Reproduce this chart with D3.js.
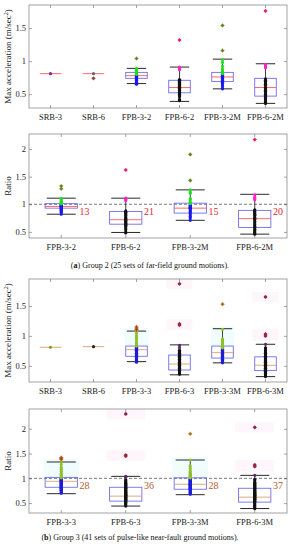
<!DOCTYPE html>
<html>
<head>
<meta charset="utf-8">
<script src="https://cdn.jsdelivr.net/npm/d3@7"></script>
<style>
  body { margin: 0; background: #fff; }
  svg { display: block; }
</style>
</head>
<body>
<svg id="chart" width="292" height="550"></svg>
<script>
// ---- data: Group 2, max acceleration ----
const g2AccCats = ['SRB-3', 'SRB-6', 'FPB-3-2', 'FPB-6-2', 'FPB-3-2M', 'FPB-6-2M'];
const g2AccLo = [0.81, 0.81, 0.66, 0.39, 0.58, 0.36];
const g2AccQ1 = [0.81, 0.81, 0.74, 0.52, 0.69, 0.47];
const g2AccMed = [0.81, 0.81, 0.78, 0.60, 0.76, 0.60];
const g2AccQ3 = [0.81, 0.81, 0.83, 0.71, 0.83, 0.74];
const g2AccHi = [0.81, 0.81, 0.89, 0.91, 1.03, 0.96];
const g2AccHigh = [
  [], [],
  [1.04, 0.89, 0.87, 0.86, 0.85, 0.84, 0.83, 0.83, 0.82, 0.81, 0.81, 0.80],
  [1.32, 0.91, 0.89, 0.87],
  [1.54, 1.16, 1.02, 0.98, 0.92, 0.88, 0.85, 0.84, 0.82, 0.81],
  [1.76, 0.95, 0.93, 0.91, 0.90]
];
const g2AccLow = [
  [0.81], [0.81, 0.74],
  [0.79, 0.78, 0.77, 0.76, 0.75, 0.74, 0.73, 0.72, 0.71, 0.70, 0.68, 0.66, 0.65],
  [0.72, 0.71, 0.70, 0.69, 0.68, 0.66, 0.65, 0.63, 0.62, 0.60, 0.59, 0.58, 0.56, 0.55, 0.53, 0.52, 0.50, 0.48, 0.46, 0.42, 0.40],
  [0.80, 0.79, 0.78, 0.77, 0.76, 0.75, 0.74, 0.73, 0.71, 0.70, 0.68, 0.66, 0.64, 0.61, 0.58],
  [0.73, 0.71, 0.69, 0.67, 0.65, 0.63, 0.60, 0.58, 0.56, 0.54, 0.52, 0.50, 0.48, 0.47, 0.45, 0.43, 0.41, 0.39, 0.37, 0.36]
];
const g2AccOut = [[], [0.74], [1.04], [1.32], [1.54, 1.16], [1.76]];

// ---- data: Group 2, ratio ----
const g2RatioCats = ['FPB-3-2', 'FPB-6-2', 'FPB-3-2M', 'FPB-6-2M'];
const g2RatioLo = [0.82, 0.49, 0.71, 0.46];
const g2RatioQ1 = [0.93, 0.64, 0.84, 0.58];
const g2RatioMed = [0.96, 0.72, 0.93, 0.74];
const g2RatioQ3 = [1.01, 0.87, 1.02, 0.89];
const g2RatioHi = [1.11, 1.11, 1.26, 1.18];
const g2RatioHigh = [
  [1.33, 1.28, 1.10, 1.08, 1.06, 1.05, 1.04, 1.03, 1.02, 1.02, 1.01, 1.01],
  [1.62, 1.11, 1.09, 1.07],
  [1.90, 1.43, 1.26, 1.22, 1.20, 1.10, 1.08, 1.04, 1.02, 1.01],
  [2.17, 1.17, 1.13, 1.11, 1.08]
];
const g2RatioLow = [
  [0.99, 0.98, 0.97, 0.96, 0.96, 0.95, 0.94, 0.93, 0.91, 0.89, 0.87, 0.85, 0.82],
  [0.88, 0.86, 0.85, 0.83, 0.81, 0.79, 0.77, 0.75, 0.74, 0.72, 0.71, 0.69, 0.67, 0.65, 0.64, 0.62, 0.60, 0.57, 0.54, 0.50, 0.48],
  [0.99, 0.98, 0.96, 0.95, 0.94, 0.93, 0.92, 0.90, 0.88, 0.86, 0.84, 0.81, 0.78, 0.75, 0.71],
  [0.90, 0.88, 0.86, 0.84, 0.82, 0.80, 0.77, 0.75, 0.74, 0.72, 0.69, 0.66, 0.63, 0.60, 0.58, 0.55, 0.52, 0.50, 0.48, 0.46]
];
const g2RatioOut = [[1.33, 1.28], [1.62], [1.90, 1.43], [2.17]];
const g2RatioCount = [13, 21, 15, 20];

// ---- data: Group 3, max acceleration ----
const g3AccCats = ['SRB-3', 'SRB-6', 'FPB-3-3', 'FPB-6-3', 'FPB-3-3M', 'FPB-6-3M'];
const g3AccLo = [0.81, 0.82, 0.57, 0.35, 0.55, 0.32];
const g3AccQ1 = [0.81, 0.82, 0.66, 0.43, 0.63, 0.42];
const g3AccMed = [0.81, 0.82, 0.77, 0.53, 0.72, 0.51];
const g3AccQ3 = [0.81, 0.82, 0.83, 0.68, 0.83, 0.65];
const g3AccHi = [0.81, 0.82, 1.08, 0.85, 1.12, 0.86];
const g3AccHigh = [
  [], [],
  [1.15, 1.13, 1.11, 1.10, 1.07, 1.04, 1.00, 0.97, 0.94, 0.90, 0.87, 0.85, 0.83],
  [1.87, 1.20, 1.18, 0.84, 0.80],
  [1.53, 1.11, 0.95, 0.92, 0.90, 0.88, 0.87, 0.85, 0.84, 0.83, 0.82, 0.81, 0.80],
  [1.65, 1.03, 1.00, 0.86]
];
const g3AccLow = [
  [0.81], [0.82],
  [0.81, 0.80, 0.79, 0.79, 0.78, 0.77, 0.77, 0.76, 0.75, 0.75, 0.74, 0.73, 0.72, 0.71, 0.70, 0.70, 0.69, 0.68, 0.67, 0.66, 0.65, 0.64, 0.63, 0.62, 0.60, 0.59, 0.58, 0.56],
  [0.76, 0.74, 0.73, 0.72, 0.71, 0.70, 0.69, 0.68, 0.67, 0.66, 0.65, 0.64, 0.63, 0.62, 0.61, 0.60, 0.59, 0.58, 0.57, 0.56, 0.55, 0.54, 0.53, 0.52, 0.51, 0.50, 0.49, 0.48, 0.47, 0.46, 0.45, 0.44, 0.42, 0.40, 0.38, 0.36],
  [0.79, 0.78, 0.78, 0.77, 0.76, 0.75, 0.75, 0.74, 0.73, 0.72, 0.71, 0.70, 0.70, 0.69, 0.68, 0.67, 0.66, 0.65, 0.64, 0.63, 0.62, 0.61, 0.60, 0.59, 0.58, 0.57, 0.56, 0.55],
  [0.80, 0.78, 0.75, 0.73, 0.71, 0.70, 0.68, 0.66, 0.64, 0.63, 0.62, 0.60, 0.59, 0.58, 0.57, 0.56, 0.55, 0.54, 0.53, 0.52, 0.51, 0.50, 0.49, 0.48, 0.47, 0.46, 0.45, 0.44, 0.43, 0.42, 0.41, 0.40, 0.38, 0.37, 0.35, 0.33, 0.32]
];
const g3AccOut = [[], [], [1.15, 1.13, 1.11, 1.10], [1.87, 1.20, 1.18], [1.53], [1.65, 1.03, 1.00]];

// ---- data: Group 3, ratio ----
const g3RatioCats = ['FPB-3-3', 'FPB-6-3', 'FPB-3-3M', 'FPB-6-3M'];
const g3RatioLo = [0.69, 0.44, 0.67, 0.39];
const g3RatioQ1 = [0.82, 0.54, 0.78, 0.52];
const g3RatioMed = [0.94, 0.64, 0.88, 0.62];
const g3RatioQ3 = [1.02, 0.82, 1.01, 0.80];
const g3RatioHi = [1.33, 1.04, 1.37, 1.06];
const g3RatioHigh = [
  [1.42, 1.40, 1.38, 1.33, 1.28, 1.22, 1.18, 1.14, 1.10, 1.07, 1.05, 1.03, 1.01],
  [2.30, 1.47, 1.45, 1.04, 1.02],
  [1.90, 1.37, 1.25, 1.20, 1.15, 1.12, 1.10, 1.08, 1.06, 1.04, 1.03, 1.02, 1.01],
  [2.03, 1.27, 1.24, 1.06]
];
const g3RatioLow = [
  [0.99, 0.98, 0.97, 0.96, 0.95, 0.95, 0.94, 0.93, 0.92, 0.91, 0.90, 0.89, 0.88, 0.87, 0.86, 0.85, 0.84, 0.83, 0.82, 0.81, 0.80, 0.79, 0.78, 0.76, 0.75, 0.73, 0.71, 0.70],
  [0.97, 0.95, 0.93, 0.91, 0.90, 0.88, 0.86, 0.85, 0.83, 0.82, 0.80, 0.79, 0.77, 0.76, 0.74, 0.72, 0.71, 0.70, 0.68, 0.67, 0.66, 0.65, 0.64, 0.62, 0.61, 0.60, 0.58, 0.57, 0.56, 0.55, 0.53, 0.51, 0.50, 0.48, 0.46, 0.44],
  [0.99, 0.98, 0.97, 0.96, 0.95, 0.94, 0.93, 0.92, 0.91, 0.90, 0.89, 0.88, 0.88, 0.87, 0.86, 0.85, 0.84, 0.83, 0.82, 0.81, 0.80, 0.79, 0.78, 0.76, 0.74, 0.72, 0.70, 0.68],
  [0.98, 0.95, 0.92, 0.90, 0.88, 0.86, 0.84, 0.82, 0.80, 0.79, 0.77, 0.76, 0.74, 0.72, 0.71, 0.70, 0.68, 0.67, 0.66, 0.65, 0.64, 0.62, 0.61, 0.60, 0.58, 0.57, 0.56, 0.54, 0.53, 0.52, 0.50, 0.48, 0.46, 0.44, 0.42, 0.40, 0.39]
];
const g3RatioOut = [[1.42, 1.40, 1.38], [2.30, 1.47, 1.45], [1.90], [2.03, 1.27, 1.24]];
const g3RatioCount = [28, 36, 28, 37];

const accTicks = [0.5, 1, 1.5];
const ratioTicks = [0.5, 1, 1.5, 2];

// ---- styling ----
const serif = '"Liberation Serif", "DejaVu Serif", serif';
const frameColor = '#8c8c8c';
const boxColor = '#5b5bef';

const group2Colors = {
  median: '#ff5a5a', count: '#e8262e',
  fpb3: ['#22dd22', '#1818ee'], fpb6: ['#ff22cc', '#111111'],
  srb3: '#7a2a8a', srb6: '#666666'
};
const group3Colors = {
  median: '#d8a070', count: '#b5582c',
  fpb3: ['#8fbf2a', '#1e1ed8'], fpb6: ['#5a2a6a', '#111111'],
  srb3: '#8a9a20', srb6: '#222222'
};

const plotLeft = 29, plotRight = 287;
const svg = d3.select('#chart');

function drawPanel(p) {
  const x = d3.scaleBand().domain(p.cats).range([plotLeft, plotRight]);
  const y = d3.scaleLinear().domain(p.domain).range([p.bottom, p.top]);
  const bw = x.bandwidth();
  const boxW = bw * 0.5;
  const capW = boxW * 0.45;
  const cx = c => x(c) + bw / 2;
  const col = p.colors;
  const g = svg.append('g');

  const rows = p.cats.map((c, i) => ({
    cat: c, lo: p.lo[i], q1: p.q1[i], med: p.med[i], q3: p.q3[i], hi: p.hi[i],
    high: p.high[i], low: p.low[i], out: p.out[i], count: p.count ? p.count[i] : null
  }));

  // very faint halos (group 3 figure)
  if (p.halo) {
    rows.forEach(r => {
      if (r.cat.startsWith('FPB-3')) {
        const inner = r.high.filter(v => v <= r.hi);
        if (inner.length) {
          g.append('rect')
            .attr('x', cx(r.cat) - boxW * 0.55)
            .attr('y', y(d3.max(inner)) - 3)
            .attr('width', boxW * 1.1)
            .attr('height', y(r.q3) - y(d3.max(inner)) + 3)
            .attr('fill', '#f1fcfc');
        }
      }
      if (r.cat.startsWith('FPB-6')) {
        r.out.forEach(v => {
          g.append('rect')
            .attr('x', cx(r.cat) - boxW * 0.6)
            .attr('y', y(v) - 5)
            .attr('width', boxW * 1.2)
            .attr('height', 10)
            .attr('fill', '#fef6fb');
        });
      }
    });
  }

  // frame
  g.append('rect')
    .attr('x', plotLeft).attr('y', p.top)
    .attr('width', plotRight - plotLeft).attr('height', p.bottom - p.top)
    .attr('fill', 'none').attr('stroke', frameColor).attr('stroke-width', 0.8);

  const styleAxis = sel => {
    sel.select('.domain').remove();
    sel.selectAll('.tick line').attr('stroke', frameColor).attr('stroke-width', 0.8);
    sel.selectAll('.tick text')
      .attr('fill', '#222').attr('font-family', serif).attr('font-size', '8.5px');
  };

  g.append('g').attr('transform', `translate(${plotLeft},0)`)
    .call(d3.axisLeft(y).tickValues(p.ticks).tickSize(-3).tickPadding(3).tickFormat(d3.format('~g')))
    .call(styleAxis);
  g.append('g').attr('transform', `translate(${plotRight},0)`)
    .call(d3.axisRight(y).tickValues(p.ticks).tickSize(-3).tickFormat(''))
    .call(styleAxis);
  g.append('g').attr('transform', `translate(0,${p.bottom})`)
    .call(d3.axisBottom(x).tickSize(-3).tickPadding(6))
    .call(styleAxis);
  g.append('g').attr('transform', `translate(0,${p.top})`)
    .call(d3.axisTop(x).tickSize(-3).tickFormat(''))
    .call(styleAxis);

  // reference line at ratio = 1
  if (p.refLine) {
    g.append('line')
      .attr('x1', plotLeft).attr('x2', plotRight)
      .attr('y1', y(1)).attr('y2', y(1))
      .attr('stroke', '#555').attr('stroke-width', 0.8).attr('stroke-dasharray', '3,2');
  }

  rows.forEach(r => {
    const c = cx(r.cat);
    // whiskers
    if (r.hi > r.q3) {
      g.append('line').attr('x1', c).attr('x2', c).attr('y1', y(r.q3)).attr('y2', y(r.hi))
        .attr('stroke', '#111').attr('stroke-width', 0.8);
      g.append('line').attr('x1', c - capW).attr('x2', c + capW).attr('y1', y(r.hi)).attr('y2', y(r.hi))
        .attr('stroke', '#111').attr('stroke-width', 0.9);
    }
    if (r.lo < r.q1) {
      g.append('line').attr('x1', c).attr('x2', c).attr('y1', y(r.q1)).attr('y2', y(r.lo))
        .attr('stroke', '#111').attr('stroke-width', 0.8);
      g.append('line').attr('x1', c - capW).attr('x2', c + capW).attr('y1', y(r.lo)).attr('y2', y(r.lo))
        .attr('stroke', '#111').attr('stroke-width', 0.9);
    }
    // box
    g.append('rect')
      .attr('x', c - boxW / 2).attr('y', y(r.q3))
      .attr('width', boxW).attr('height', Math.max(0, y(r.q1) - y(r.q3)))
      .attr('fill', 'none').attr('stroke', boxColor).attr('stroke-width', 0.8);
    // median
    g.append('line')
      .attr('x1', c - boxW / 2).attr('x2', c + boxW / 2)
      .attr('y1', y(r.med)).attr('y2', y(r.med))
      .attr('stroke', col.median).attr('stroke-width', 0.9);

    // points
    let hiCol, loCol;
    if (r.cat.startsWith('FPB-3')) [hiCol, loCol] = col.fpb3;
    else if (r.cat.startsWith('FPB-6')) [hiCol, loCol] = col.fpb6;
    else if (r.cat === 'SRB-3') hiCol = loCol = col.srb3;
    else hiCol = loCol = col.srb6;

    g.selectAll(null).data(r.low).enter().append('circle')
      .attr('cx', c).attr('cy', d => y(d)).attr('r', 1.6).attr('fill', loCol);
    g.selectAll(null).data(r.high).enter().append('circle')
      .attr('cx', c).attr('cy', d => y(d)).attr('r', 1.6).attr('fill', hiCol);

    // outlier markers (red +)
    g.selectAll(null).data(r.out).enter().append('path')
      .attr('d', d => `M${c - 2},${y(d)}h4M${c},${y(d) - 2}v4`)
      .attr('stroke', '#d42020').attr('stroke-width', 0.7).attr('opacity', 0.8);

    // count label
    if (r.count !== null) {
      g.append('text')
        .attr('x', c + boxW / 2 + 2)
        .attr('y', y(1) + 11)
        .attr('font-family', serif).attr('font-size', '10px')
        .attr('fill', col.count)
        .text(r.count);
    }
  });

  // y-axis title
  const t = g.append('text')
    .attr('transform', `translate(11,${(p.top + p.bottom) / 2}) rotate(-90)`)
    .attr('text-anchor', 'middle')
    .attr('font-family', serif).attr('font-size', '9px').attr('fill', '#222');
  if (p.yTitle === 'acc') {
    t.append('tspan').text('Max  acceleration (m/sec');
    t.append('tspan').attr('font-size', '6px').attr('dy', '-3').text('2');
    t.append('tspan').attr('dy', '3').text(')');
  } else {
    t.text('Ratio');
  }
}

drawPanel({
  cats: g2AccCats, lo: g2AccLo, q1: g2AccQ1, med: g2AccMed, q3: g2AccQ3, hi: g2AccHi,
  high: g2AccHigh, low: g2AccLow, out: g2AccOut,
  domain: [0.29, 1.85], ticks: accTicks, top: 5, bottom: 108,
  colors: group2Colors, yTitle: 'acc'
});
drawPanel({
  cats: g2RatioCats, lo: g2RatioLo, q1: g2RatioQ1, med: g2RatioMed, q3: g2RatioQ3, hi: g2RatioHi,
  high: g2RatioHigh, low: g2RatioLow, out: g2RatioOut, count: g2RatioCount,
  domain: [0.39, 2.27], ticks: ratioTicks, top: 134, bottom: 238,
  colors: group2Colors, yTitle: 'ratio', refLine: true
});
drawPanel({
  cats: g3AccCats, lo: g3AccLo, q1: g3AccQ1, med: g3AccMed, q3: g3AccQ3, hi: g3AccHi,
  high: g3AccHigh, low: g3AccLow, out: g3AccOut,
  domain: [0.23, 1.95], ticks: accTicks, top: 279, bottom: 382,
  colors: group3Colors, yTitle: 'acc', halo: true
});
drawPanel({
  cats: g3RatioCats, lo: g3RatioLo, q1: g3RatioQ1, med: g3RatioMed, q3: g3RatioQ3, hi: g3RatioHi,
  high: g3RatioHigh, low: g3RatioLow, out: g3RatioOut, count: g3RatioCount,
  domain: [0.3, 2.4], ticks: ratioTicks, top: 409, bottom: 513,
  colors: group3Colors, yTitle: 'ratio', refLine: true, halo: true
});

// captions
function caption(xc, yb, label, rest) {
  const t = svg.append('text')
    .attr('x', xc).attr('y', yb).attr('text-anchor', 'middle')
    .attr('font-family', serif).attr('font-size', '8px').attr('fill', '#111');
  t.append('tspan').text('(');
  t.append('tspan').attr('font-weight', 'bold').text(label);
  t.append('tspan').text(') ' + rest);
}
caption(150, 268, 'a', 'Group 2 (25 sets of far-field ground motions).');
caption(140, 540, 'b', 'Group 3 (41 sets of pulse-like near-fault ground motions).');
</script>
</body>
</html>
